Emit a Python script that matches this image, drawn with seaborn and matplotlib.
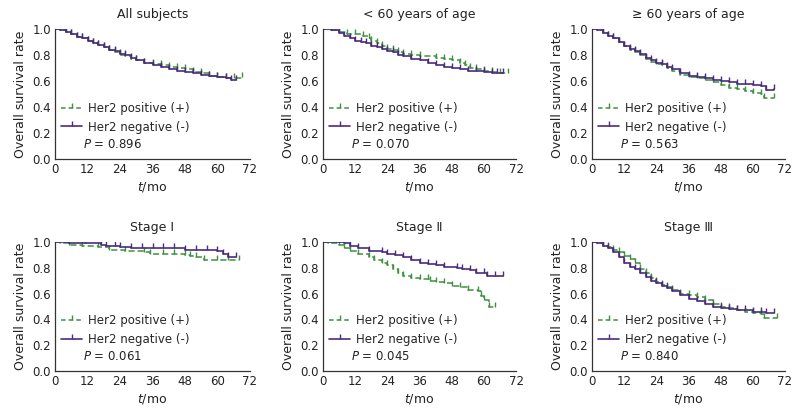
import numpy as np
import pandas as pd
import matplotlib
matplotlib.use("Agg")
import matplotlib.pyplot as plt
import seaborn as sns
from matplotlib.lines import Line2D

sns.set_style("white")
plt.rcParams['font.family'] = ['DejaVu Sans']

titles = ["All subjects", "< 60 years of age", "\u2265 60 years of age",
          "Stage \u2160", "Stage \u2161", "Stage \u2162"]
p_values = ["0.896", "0.070", "0.563", "0.061", "0.045", "0.840"]
x_ticks = [0, 12, 24, 36, 48, 60, 72]
y_ticks = [0.0, 0.2, 0.4, 0.6, 0.8, 1.0]
legend_labels = ["Her2 positive (+)", "Her2 negative (-)"]

# Panel 1: All subjects
all_pos_t = [0, 2, 4, 6, 8, 10, 12, 14, 16, 18, 20, 22, 24, 26, 28, 30, 33, 36, 39, 42, 45, 48, 51, 54, 57, 60, 63, 66, 69]
all_pos_s = [1.0, 0.99, 0.98, 0.96, 0.94, 0.93, 0.91, 0.89, 0.88, 0.86, 0.84, 0.82, 0.80, 0.79, 0.77, 0.76, 0.74, 0.73, 0.72, 0.71, 0.70, 0.69, 0.67, 0.66, 0.64, 0.63, 0.62, 0.62, 0.63]
all_neg_t = [0, 2, 4, 6, 8, 10, 12, 14, 16, 18, 20, 22, 24, 26, 28, 30, 33, 36, 39, 42, 45, 48, 51, 54, 57, 60, 63, 65, 67]
all_neg_s = [1.0, 0.99, 0.98, 0.96, 0.94, 0.93, 0.91, 0.89, 0.88, 0.86, 0.84, 0.83, 0.81, 0.80, 0.78, 0.76, 0.74, 0.72, 0.71, 0.69, 0.68, 0.67, 0.66, 0.65, 0.64, 0.63, 0.62, 0.61, 0.61]

# Panel 2: < 60 years
y60_pos_t = [0, 3, 6, 9, 12, 15, 17, 18, 20, 22, 24, 26, 28, 30, 33, 36, 42, 45, 48, 51, 53, 55, 57, 60, 63, 66, 69]
y60_pos_s = [1.0, 0.99, 0.98, 0.96, 0.96, 0.95, 0.93, 0.91, 0.89, 0.87, 0.85, 0.84, 0.82, 0.81, 0.80, 0.79, 0.78, 0.77, 0.76, 0.74, 0.72, 0.70, 0.69, 0.68, 0.67, 0.66, 0.66]
y60_neg_t = [0, 3, 6, 8, 10, 12, 14, 16, 18, 20, 22, 24, 26, 28, 30, 33, 36, 39, 42, 45, 48, 51, 54, 57, 60, 63, 65, 67]
y60_neg_s = [1.0, 0.99, 0.97, 0.95, 0.93, 0.91, 0.90, 0.89, 0.87, 0.86, 0.85, 0.83, 0.82, 0.80, 0.79, 0.77, 0.76, 0.74, 0.72, 0.71, 0.70, 0.69, 0.68, 0.68, 0.67, 0.66, 0.66, 0.66]

# Panel 3: >= 60 years
o60_pos_t = [0, 2, 4, 6, 8, 10, 12, 14, 16, 18, 20, 22, 24, 26, 28, 30, 33, 36, 39, 42, 45, 48, 51, 54, 57, 60, 63, 64, 68]
o60_pos_s = [1.0, 0.99, 0.97, 0.95, 0.93, 0.90, 0.87, 0.84, 0.82, 0.80, 0.77, 0.75, 0.73, 0.72, 0.70, 0.68, 0.65, 0.63, 0.62, 0.61, 0.59, 0.57, 0.55, 0.54, 0.52, 0.51, 0.50, 0.47, 0.47]
o60_neg_t = [0, 2, 4, 6, 8, 10, 12, 14, 16, 18, 20, 22, 24, 26, 28, 30, 33, 36, 39, 42, 45, 48, 51, 54, 57, 60, 63, 65, 68]
o60_neg_s = [1.0, 0.99, 0.97, 0.95, 0.93, 0.90, 0.87, 0.85, 0.83, 0.81, 0.78, 0.76, 0.74, 0.73, 0.71, 0.69, 0.66, 0.64, 0.63, 0.62, 0.61, 0.60, 0.59, 0.58, 0.575, 0.57, 0.56, 0.53, 0.54]

# Panel 4: Stage I
s1_pos_t = [0, 2, 5, 10, 16, 20, 26, 33, 35, 40, 44, 48, 50, 52, 55, 60, 64, 68]
s1_pos_s = [1.0, 0.99, 0.98, 0.97, 0.96, 0.94, 0.93, 0.92, 0.91, 0.91, 0.91, 0.90, 0.89, 0.88, 0.86, 0.86, 0.86, 0.86]
s1_neg_t = [0, 5, 11, 17, 19, 22, 24, 28, 32, 36, 40, 44, 48, 52, 56, 60, 62, 64, 67]
s1_neg_s = [1.0, 0.99, 0.99, 0.98, 0.97, 0.97, 0.96, 0.95, 0.95, 0.95, 0.95, 0.95, 0.94, 0.94, 0.94, 0.93, 0.91, 0.88, 0.88]

# Panel 5: Stage II
s2_pos_t = [0, 2, 6, 8, 10, 13, 17, 19, 22, 24, 26, 28, 30, 33, 36, 39, 40, 42, 45, 48, 51, 54, 58, 59, 60, 62, 64]
s2_pos_s = [1.0, 0.99, 0.98, 0.95, 0.93, 0.91, 0.88, 0.86, 0.84, 0.82, 0.79, 0.76, 0.74, 0.72, 0.71, 0.71, 0.70, 0.69, 0.68, 0.66, 0.65, 0.63, 0.62, 0.58, 0.55, 0.50, 0.50]
s2_neg_t = [0, 6, 8, 10, 13, 17, 22, 24, 27, 30, 33, 36, 39, 42, 45, 50, 52, 55, 57, 60, 61, 64, 67]
s2_neg_s = [1.0, 1.0, 0.99, 0.97, 0.95, 0.93, 0.92, 0.91, 0.90, 0.88, 0.86, 0.84, 0.83, 0.82, 0.81, 0.80, 0.79, 0.78, 0.76, 0.76, 0.74, 0.74, 0.74]

# Panel 6: Stage III
s3_pos_t = [0, 2, 4, 6, 8, 10, 12, 14, 16, 18, 20, 22, 24, 26, 28, 30, 33, 36, 39, 42, 45, 48, 51, 54, 57, 60, 63, 64, 69]
s3_pos_s = [1.0, 0.99, 0.97, 0.96, 0.94, 0.92, 0.89, 0.87, 0.84, 0.79, 0.76, 0.72, 0.69, 0.67, 0.65, 0.63, 0.60, 0.59, 0.57, 0.55, 0.52, 0.50, 0.49, 0.47, 0.46, 0.45, 0.44, 0.41, 0.41]
s3_neg_t = [0, 2, 4, 6, 8, 10, 12, 14, 16, 18, 20, 22, 24, 26, 28, 30, 33, 36, 39, 42, 45, 48, 51, 54, 57, 60, 63, 65, 68]
s3_neg_s = [1.0, 0.99, 0.97, 0.95, 0.92, 0.88, 0.84, 0.81, 0.79, 0.76, 0.73, 0.70, 0.68, 0.66, 0.64, 0.62, 0.59, 0.56, 0.54, 0.52, 0.50, 0.49, 0.48, 0.47, 0.47, 0.46, 0.46, 0.45, 0.45]

panels = [
    (all_pos_t, all_pos_s, all_neg_t, all_neg_s),
    (y60_pos_t, y60_pos_s, y60_neg_t, y60_neg_s),
    (o60_pos_t, o60_pos_s, o60_neg_t, o60_neg_s),
    (s1_pos_t, s1_pos_s, s1_neg_t, s1_neg_s),
    (s2_pos_t, s2_pos_s, s2_neg_t, s2_neg_s),
    (s3_pos_t, s3_pos_s, s3_neg_t, s3_neg_s),
]

GREEN = "#3f913f"
PURPLE = "#4a2c7e"
TICKUP = 2  # matplotlib upward tick marker

fig = plt.figure(figsize=(8.0, 4.16), dpi=100)
W, H = 800, 416
lefts = [55, 323, 592]
rights = [250, 516, 785]
tops = [29, 242]
bottoms = [159, 371]

def step_curve(ax, t, s, color, ls, lw):
    df = pd.DataFrame({"t": t, "s": s})
    sns.lineplot(data=df, x="t", y="s", ax=ax, color=color, linestyle=ls,
                 linewidth=lw, drawstyle="steps-post", estimator=None, sort=False,
                 marker=TICKUP, markersize=3.5, markeredgewidth=1.0,
                 markeredgecolor=color, legend=False)

for i, (pt, ps, nt, ns) in enumerate(panels):
    r, c = divmod(i, 3)
    l, rr = lefts[c], rights[c]
    tp, bt = tops[r], bottoms[r]
    ax = fig.add_axes([l / W, 1 - bt / H, (rr - l) / W, (bt - tp) / H])
    step_curve(ax, pt, ps, GREEN, (0, (4, 2)), 1.1)
    step_curve(ax, nt, ns, PURPLE, "-", 1.2)
    ax.set_xlim(0, 72)
    ax.set_ylim(0, 1.0)
    ax.set_xticks(x_ticks)
    ax.set_yticks(y_ticks)
    ax.set_yticklabels([f"{v:.1f}" for v in y_ticks])
    ax.tick_params(direction="in", length=3, width=0.8, labelsize=8.5, pad=3, colors="#222222")
    for side in ["top", "right"]:
        ax.spines[side].set_visible(False)
    for side in ["left", "bottom"]:
        ax.spines[side].set_color("#333333")
        ax.spines[side].set_linewidth(0.9)
    ax.set_title(titles[i], fontsize=9, pad=8, color="#222222")
    ax.set_xlabel("$t$/mo", fontsize=9, labelpad=3, color="#222222")
    ax.set_ylabel("Overall survival rate", fontsize=9, labelpad=4, color="#222222")
    handles = [
        Line2D([0, 0.5, 1], [0, 0, 0], color=GREEN, linestyle=(0, (3, 2)), linewidth=1.1,
               marker=TICKUP, markersize=3.5, markevery=[1]),
        Line2D([0, 0.5, 1], [0, 0, 0], color=PURPLE, linestyle="-", linewidth=1.2,
               marker=TICKUP, markersize=3.5, markevery=[1]),
    ]
    ax.legend(handles, legend_labels, loc="lower left", bbox_to_anchor=(0.0, 0.15),
              frameon=False, fontsize=8.5, handlelength=1.8, handletextpad=0.5,
              labelspacing=0.5, borderaxespad=0.1)
    ax.text(0.145, 0.11, f"$P$ = {p_values[i]}", transform=ax.transAxes,
            fontsize=8.5, ha="left", va="center", color="#222222")

fig.savefig("out.png", dpi=100)
